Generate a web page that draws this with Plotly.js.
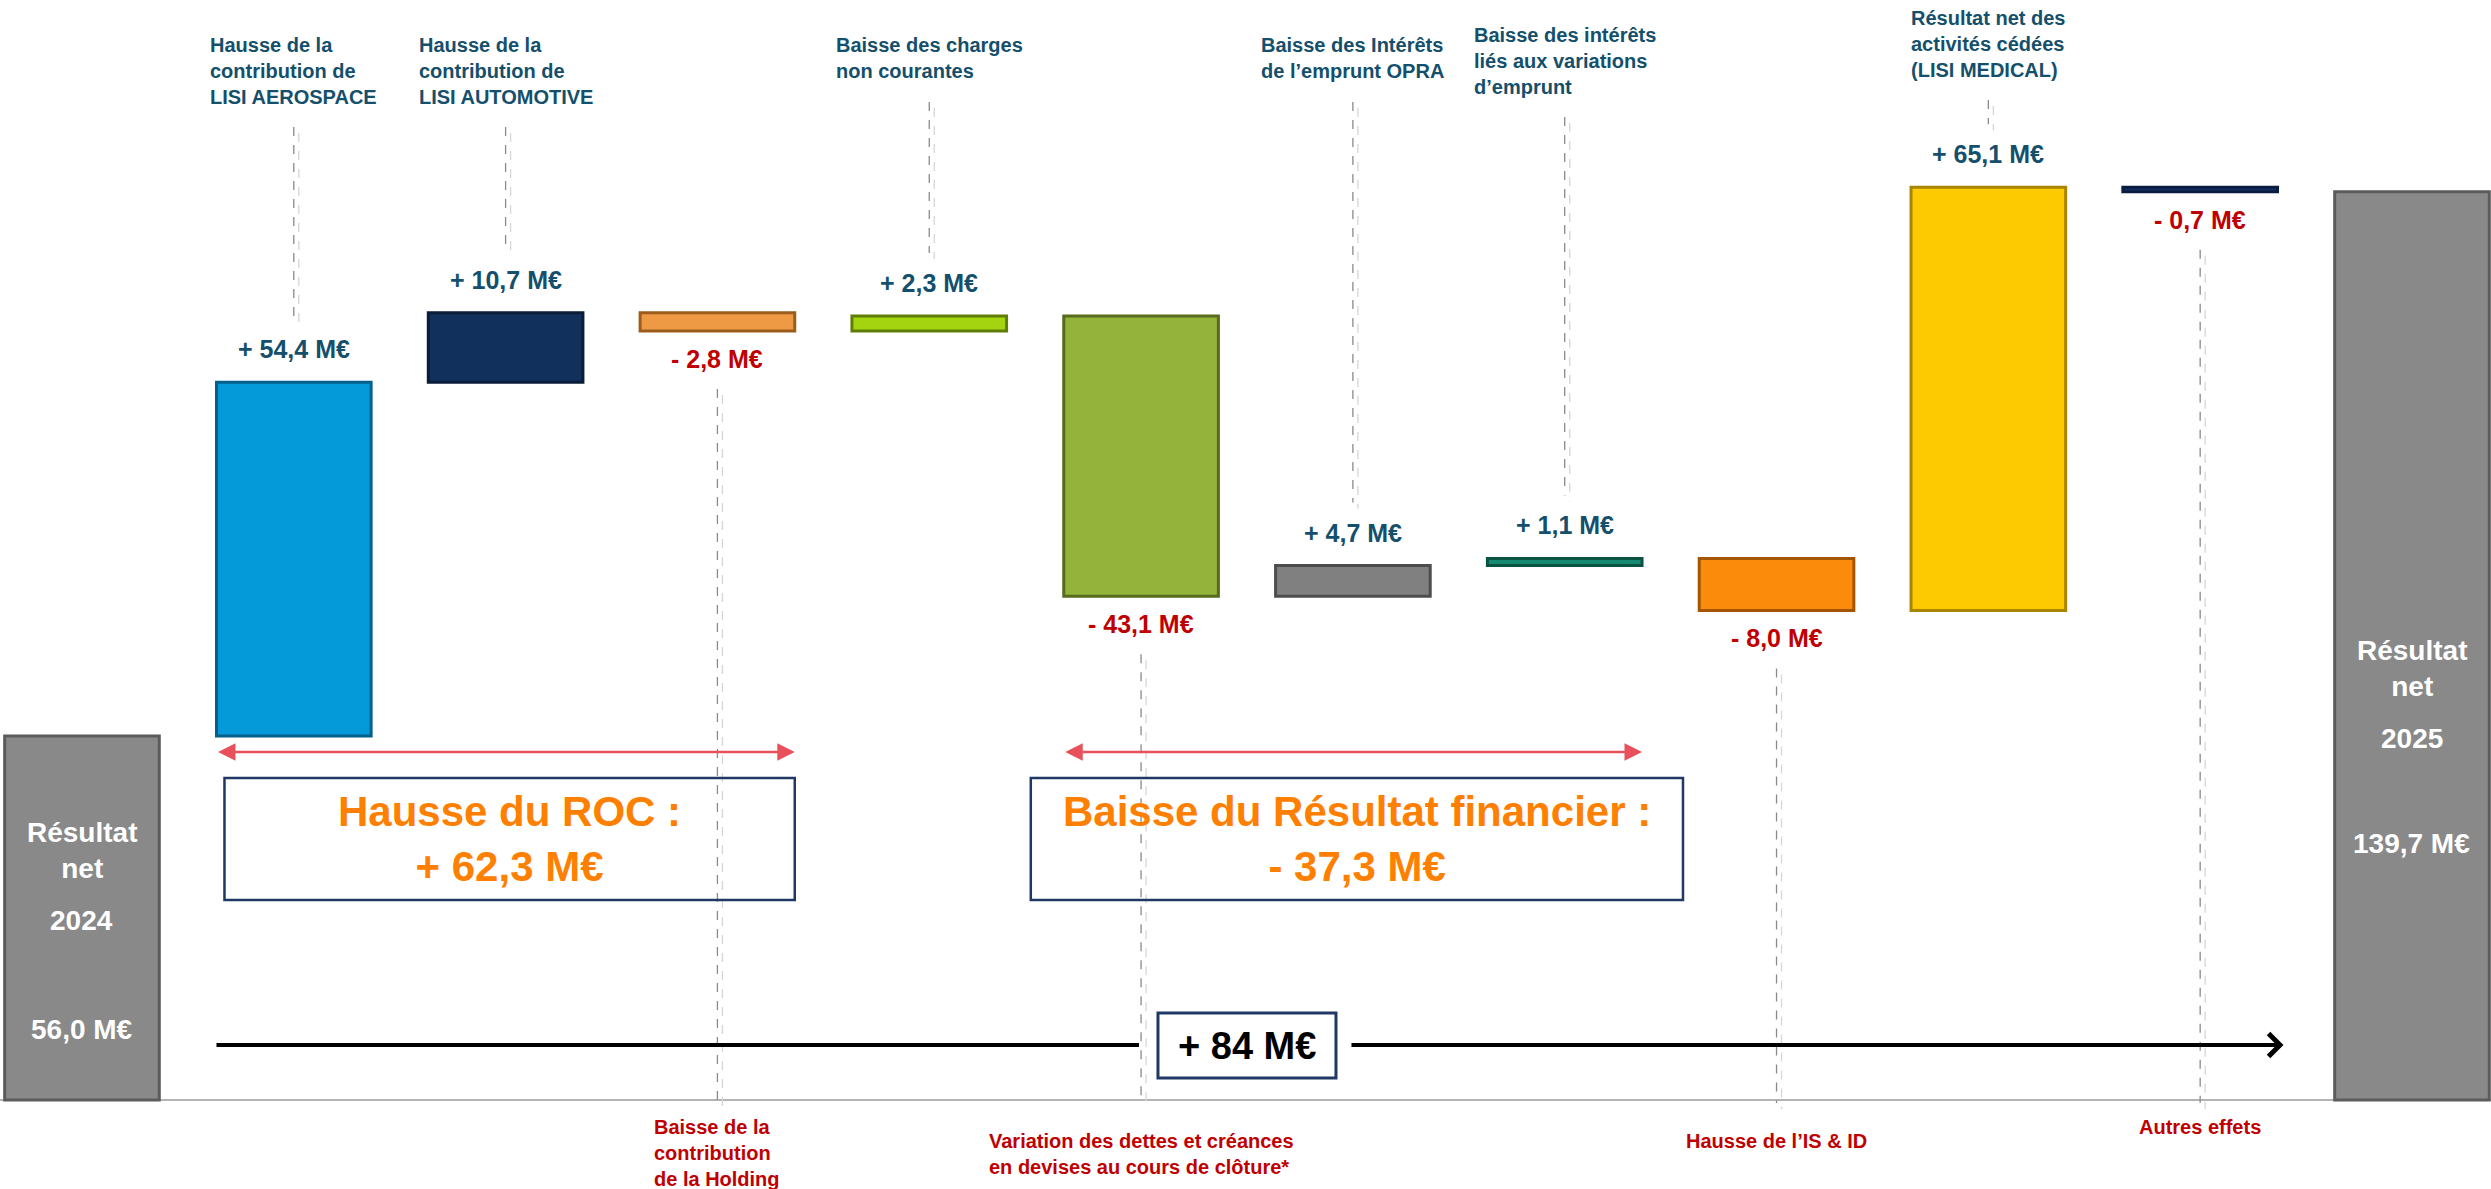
<!DOCTYPE html>
<html>
<head>
<meta charset="utf-8">
<script src="https://cdn.plot.ly/plotly-3.0.1.min.js"></script>
<style>
html, body { margin: 0; padding: 0; background: #fff; }
#plot { width: 2491px; height: 1189px; }
</style>
</head>
<body>
<div id="plot"></div>
<script>
// data
var steps = ["Résultat net 2024", "LISI AEROSPACE", "LISI AUTOMOTIVE", "Holding",
    "Charges non courantes", "Dettes et créances en devises", "Emprunt OPRA",
    "Variations d'emprunt", "IS & ID", "LISI MEDICAL", "Autres effets", "Résultat net 2025"];
var amounts = [56.0, 54.4, 10.7, -2.8, 2.3, -43.1, 4.7, 1.1, -8.0, 65.1, -0.7, 139.7];
var measures = ["total", "relative", "relative", "relative", "relative", "relative",
    "relative", "relative", "relative", "relative", "relative", "total"];
var topNotes = ["", "Hausse de la<br>contribution de<br>LISI AEROSPACE",
    "Hausse de la<br>contribution de<br>LISI AUTOMOTIVE", "",
    "Baisse des charges<br>non courantes", "",
    "Baisse des Intérêts<br>de l’emprunt OPRA",
    "Baisse des intérêts<br>liés aux variations<br>d’emprunt", "",
    "Résultat net des<br>activités cédées<br>(LISI MEDICAL)", "", ""];
var bottomNotes = ["", "", "", "Baisse de la<br>contribution<br>de la Holding", "",
    "Variation des dettes et créances<br>en devises au cours de clôture*", "", "",
    "Hausse de l’IS & ID", "", "Autres effets", ""];
var totalTitle = "Résultat<br>net";
var totalYears = ["2024", "2025"];
var groupTitles = ["Hausse du ROC :", "Baisse du Résultat financier :"];
var groupFrom = [1, 5];
var groupTo = [3, 7];

// styles
var barColors = ["#898989", "#0499d9", "#11305c", "#ee9a45", "#a4d40f", "#93b33b",
    "#808080", "#168a70", "#fb8b0b", "#fdc900", "#10306a", "#898989"];
var edgeColors = ["#5c5c5c", "#03608a", "#0a1c38", "#9c5d1c", "#5f7d08", "#566b1c",
    "#4d4d4d", "#0c5243", "#a35500", "#a88400", "#0a1c40", "#5c5c5c"];
var BLUE_TXT = "#144f6c", RED_TXT = "#c00000", ORANGE = "#ff8000", NAVY = "#1f3864";
var FONT = "Liberation Sans, Arial, sans-serif";

var W = 2491, H = 1189, Y0 = -13.7, Y1 = 169.2;
var XR = [-0.387, 11.373];
var BW = 0.73;
var unit = W / (XR[1] - XR[0]);
function yAt(px) { return Y1 - px / H * (Y1 - Y0); }
function pxAt(v) { return (Y1 - v) / (Y1 - Y0) * H; }
function dx(px) { return px / unit; }
function fmt(v, digits) {
    var s = Math.abs(v).toFixed(digits).replace(".", ",");
    return (v >= 0 ? "+ " : "- ") + s + " M€";
}

// bars built from the running total
var base = [], heights = [];
var running = 0;
for (var i = 0; i < amounts.length; i++) {
    if (measures[i] === "total") {
        base.push(0);
        heights.push(amounts[i]);
        running = amounts[i];
    } else {
        base.push(running);
        heights.push(amounts[i]);
        running += amounts[i];
    }
}

var bars = {
    type: "bar",
    x: steps,
    y: heights,
    base: base,
    width: BW,
    marker: { color: barColors, line: { color: edgeColors, width: 3 } },
    hoverinfo: "skip",
    textposition: "none"
};

var annotations = [];
var shapes = [];

// per-note vertical placement (pixels from top)
var noteTop = { 1: 32, 2: 32, 4: 32, 6: 32, 7: 22, 9: 5 };
var noteBottom = { 3: 1114, 5: 1128, 8: 1128, 10: 1114 };

function leader(x, pxTop, pxBot) {
    shapes.push({ type: "line", xref: "x", yref: "y", x0: x, x1: x,
        y0: yAt(pxTop), y1: yAt(pxBot), layer: "above",
        line: { color: "#8a8a8a", width: 1.3, dash: "dash" } });
    shapes.push({ type: "line", xref: "x", yref: "y", x0: x + dx(5), x1: x + dx(5),
        y0: yAt(pxTop + 6), y1: yAt(pxBot + 6), layer: "above",
        line: { color: "#d6d6d6", width: 1.3, dash: "dash" } });
}

for (var i = 0; i < steps.length; i++) {
    if (measures[i] !== "relative") continue;
    var v = amounts[i];
    var hi = Math.max(base[i], base[i] + v);
    var lo = Math.min(base[i], base[i] + v);
    var labelPx = v > 0 ? pxAt(hi) - 33 : pxAt(lo) + 28;
    annotations.push({ x: i, y: yAt(labelPx), xref: "x", yref: "y", showarrow: false,
        xanchor: "center", yanchor: "middle", text: fmt(v, 1),
        font: { family: FONT, size: 25, color: v > 0 ? BLUE_TXT : RED_TXT, weight: "bold" } });

    if (topNotes[i]) {
        var t = noteTop[i];
        var lines = topNotes[i].split("<br>").length;
        annotations.push({ x: i, y: yAt(t), xref: "x", yref: "y", showarrow: false,
            xanchor: "center", yanchor: "top", align: "left", text: topNotes[i],
            font: { family: FONT, size: 20, color: BLUE_TXT, weight: "bold" } });
        leader(i, t + lines * 25 + 20, labelPx - 30);
    }
    if (bottomNotes[i]) {
        var b = noteBottom[i];
        annotations.push({ x: i, y: yAt(b), xref: "x", yref: "y", showarrow: false,
            xanchor: "center", yanchor: "top", align: "left", text: bottomNotes[i],
            font: { family: FONT, size: 20, color: RED_TXT, weight: "bold" } });
        leader(i, labelPx + 30, 1103);
    }
}

// text inside the two total bars
var totalIdx = [0, steps.length - 1];
var inBarPx = [[850, 920, 1029], [668, 738, 843]];
for (var k = 0; k < totalIdx.length; k++) {
    var j = totalIdx[k];
    var parts = [totalTitle, totalYears[k], amounts[j].toFixed(1).replace(".", ",") + " M€"];
    for (var p = 0; p < parts.length; p++) {
        annotations.push({ x: j, y: yAt(inBarPx[k][p]), xref: "x", yref: "y", showarrow: false,
            xanchor: "center", yanchor: "middle", text: parts[p],
            font: { family: FONT, size: 28, color: "#ffffff", weight: "bold" } });
    }
}

// ROC / financial result groups
for (var g = 0; g < groupTitles.length; g++) {
    var sum = 0;
    for (var i = groupFrom[g]; i <= groupTo[g]; i++) sum += amounts[i];
    var xl = groupFrom[g] - BW / 2, xr = groupTo[g] + BW / 2;
    annotations.push({ x: xr, y: yAt(752), ax: xl, ay: yAt(752), xref: "x", yref: "y",
        axref: "x", ayref: "y", text: "", showarrow: true, arrowside: "end+start",
        arrowhead: 2, startarrowhead: 2, arrowsize: 1.4, startarrowsize: 1.4,
        arrowwidth: 2.5, arrowcolor: "#e8505b", standoff: 0, startstandoff: 0 });
    // box at least wide enough for its text (rough width estimate)
    var mid = (xl + dx(8) + xr) / 2;
    var half = Math.max((xr - xl - dx(8)) / 2, dx(groupTitles[g].length * 0.47 * 42 / 2 + 30));
    shapes.push({ type: "rect", xref: "x", yref: "y", x0: mid - half, x1: mid + half,
        y0: yAt(900), y1: yAt(778), fillcolor: "rgba(0,0,0,0)",
        line: { color: NAVY, width: 2.5 } });
    annotations.push({ x: mid, y: yAt(839), xref: "x", yref: "y",
        showarrow: false, xanchor: "center", yanchor: "middle",
        text: groupTitles[g] + "<br>" + fmt(Math.round(sum * 10) / 10, 1),
        font: { family: FONT, size: 42, color: ORANGE, weight: "bold" } });
}

// overall change arrow
var change = amounts[amounts.length - 1] - amounts[0];
var boxC = 5.5, boxHalf = dx(89), lineY = yAt(1045);
shapes.push({ type: "line", xref: "x", yref: "y", x0: 1 - BW / 2, x1: boxC - boxHalf - dx(19),
    y0: lineY, y1: lineY, line: { color: "#000000", width: 4 } });
annotations.push({ x: 10 + BW / 2 + dx(6), y: lineY, ax: boxC + boxHalf + dx(14), ay: lineY,
    xref: "x", yref: "y", axref: "x", ayref: "y", text: "", showarrow: true,
    arrowhead: 4, arrowsize: 1.1, arrowwidth: 4, arrowcolor: "#000000", standoff: 0 });
shapes.push({ type: "rect", xref: "x", yref: "y", x0: boxC - boxHalf, x1: boxC + boxHalf,
    y0: yAt(1078), y1: yAt(1013), fillcolor: "#ffffff", line: { color: NAVY, width: 3 } });
annotations.push({ x: boxC, y: yAt(1046), xref: "x", yref: "y", showarrow: false,
    xanchor: "center", yanchor: "middle", text: fmt(Math.round(change), 0),
    font: { family: FONT, size: 38, color: "#000000", weight: "bold" } });

var layout = {
    width: W,
    height: H,
    margin: { l: 0, r: 0, t: 0, b: 0 },
    paper_bgcolor: "#ffffff",
    plot_bgcolor: "#ffffff",
    showlegend: false,
    xaxis: { type: "category", range: XR, showticklabels: false, showgrid: false,
        zeroline: false, showline: false, ticks: "" },
    yaxis: { range: [Y0, Y1], showticklabels: false, showgrid: false,
        zeroline: true, zerolinecolor: "#b3b3b3", zerolinewidth: 2, showline: false },
    annotations: annotations,
    shapes: shapes
};

Plotly.newPlot("plot", [bars], layout, { staticPlot: true, displayModeBar: false });
</script>
</body>
</html>
